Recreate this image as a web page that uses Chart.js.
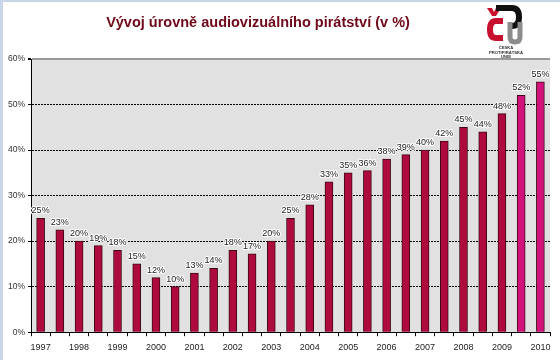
<!DOCTYPE html>
<html>
<head>
<meta charset="utf-8">
<script src="https://cdn.jsdelivr.net/npm/chart.js@4"></script>
<style>
  html, body { margin: 0; padding: 0; background: #fff; }
  #wrap { position: relative; width: 560px; height: 360px; overflow: hidden; }
  #frameL { position: absolute; left: 0; top: 0; width: 3px; height: 360px; background: #c9d6e8; }
  #frameT { position: absolute; left: 0; top: 0; width: 560px; height: 2px; background: #c9d6e8; }
  #title { position: absolute; left: 0; width: 516px; top: 14px; text-align: center;
           font: bold 14.5px "Liberation Sans", Arial, sans-serif; color: #6e0818; }
  #logo { position: absolute; left: 482px; top: 2px; }
  #chart { position: absolute; left: 0; top: 0; }
</style>
</head>
<body>
<div id="wrap">
  <div id="frameL"></div>
  <div id="frameT"></div>
  <canvas id="chart" width="560" height="360"></canvas>
  <div id="title">Vývoj úrovně audiovizuálního pirátství (v %)</div>
  <svg id="logo" width="46" height="58" viewBox="0 0 46 58">
    <path d="M5 6 L10 6 L12 10 L14 6 L19 6 L14 14 L10 14 Z" fill="#c8102e"/>
    <path d="M21 19 L14 19 Q8 19 8 27.5 Q8 36 14 36 L21 36" fill="none" stroke="#c8102e" stroke-width="6"/>
    <path d="M14 6 L30 6 Q37 6 37 15 Q37 24 30 24 L26 24" fill="none" stroke="#111" stroke-width="6"/>
    <path d="M28 20 L28 35 Q28 40 33 40 Q38 40 38 35 L38 20" fill="none" stroke="#8c8c8c" stroke-width="5"/>
    <text x="24" y="47" text-anchor="middle" font-family="Liberation Sans, Arial" font-size="4.2" font-weight="bold" fill="#333">ČESKÁ</text>
    <text x="24" y="51.5" text-anchor="middle" font-family="Liberation Sans, Arial" font-size="4.2" font-weight="bold" fill="#333">PROTIPIRÁTSKÁ</text>
    <text x="24" y="56" text-anchor="middle" font-family="Liberation Sans, Arial" font-size="4.2" font-weight="bold" fill="#333">UNIE</text>
  </svg>
</div>
<script>
// pololetí 1997 - 2010
var periods = ['1997/1', '1997/2', '1998/1', '1998/2', '1999/1', '1999/2', '2000/1', '2000/2',
  '2001/1', '2001/2', '2002/1', '2002/2', '2003/1', '2003/2', '2004/1', '2004/2',
  '2005/1', '2005/2', '2006/1', '2006/2', '2007/1', '2007/2', '2008/1', '2008/2',
  '2009/1', '2009/2', '2010/1']
var yearLabels = ['1997', '1998', '1999', '2000', '2001', '2002', '2003',
  '2004', '2005', '2006', '2007', '2008', '2009', '2010']
var piracy = [25, 23, 20, 19, 18, 15, 12, 10, 13, 14, 18, 17, 20, 25,
  28, 33, 35, 36, 38, 39, 40, 42, 45, 44, 48, 52, 55]
var barHeights = [25, 22.5, 20, 19, 18, 15, 12, 10, 13, 14, 18, 17.2, 20, 25,
  28, 33, 35, 35.5, 38, 39, 40, 42, 45, 44, 48, 52, 55]
var yTicks = [0, 10, 20, 30, 40, 50, 60]

var barColors = barHeights.map(function (v, i) { return i >= 25 ? '#d4127c' : '#ae0a3e' })

var plotBg = {
  id: 'plotBg',
  beforeDraw: function (chart) {
    var a = chart.chartArea, c = chart.ctx
    c.save()
    c.fillStyle = '#e1e1e1'
    c.fillRect(a.left, a.top, a.right - a.left, a.bottom - a.top)
    c.restore()
  }
}

var valueLabels = {
  id: 'valueLabels',
  afterDatasetsDraw: function (chart) {
    var c = chart.ctx
    var meta = chart.getDatasetMeta(0)
    c.save()
    c.font = '9px "Liberation Sans", Arial, sans-serif'
    c.textAlign = 'center'
    c.textBaseline = 'bottom'
    c.lineJoin = 'round'
    meta.data.forEach(function (bar, i) {
      var t = piracy[i] + '%'
      c.strokeStyle = '#ffffff'
      c.lineWidth = 2
      c.strokeText(t, bar.x, bar.y - 3)
      c.fillStyle = '#222'
      c.fillText(t, bar.x, bar.y - 3)
    })
    c.restore()
  }
}

var ctx = document.getElementById('chart')
var chart = new Chart(ctx, {
  type: 'bar',
  data: {
    labels: periods,
    datasets: [{
      data: barHeights,
      backgroundColor: barColors,
      borderColor: '#3d0a14',
      borderWidth: 1,
      borderSkipped: 'bottom',
      barThickness: 8
    }]
  },
  options: {
    responsive: false,
    animation: false,
    layout: { padding: { top: 59, right: 10, left: 5, bottom: 1 } },
    plugins: {
      legend: { display: false },
      tooltip: { enabled: false }
    },
    scales: {
      x: {
        grid: { drawOnChartArea: false, drawTicks: true, tickLength: 4, color: '#000', offset: true },
        border: { color: '#000', width: 1 },
        ticks: {
          autoSkip: false, maxRotation: 0, padding: 6, color: '#222',
          font: { size: 9, family: '"Liberation Sans", Arial, sans-serif' },
          callback: function (v, i) { return i % 2 === 0 ? yearLabels[i / 2] : '' }
        }
      },
      y: {
        min: 0, max: 60,
        afterBuildTicks: function (axis) { axis.ticks = yTicks.map(function (v) { return { value: v } }) },
        grid: {
          color: function (c) { return c.tick.value === 60 ? '#9a9a9a' : '#000' },
          lineWidth: function (c) { return c.tick.value === 60 ? 2 : 1 },
          tickLength: 3,
          tickColor: '#000'
        },
        border: {
          color: '#000', width: 1,
          dash: function (c) { return c.tick && c.tick.value === 60 ? [] : [2, 1] }
        },
        ticks: {
          padding: 3, color: '#333',
          font: { size: 8.5, family: '"Liberation Sans", Arial, sans-serif' },
          callback: function (v) { return v + '%' }
        }
      }
    }
  },
  plugins: [plotBg, valueLabels]
})
</script>
</body>
</html>
